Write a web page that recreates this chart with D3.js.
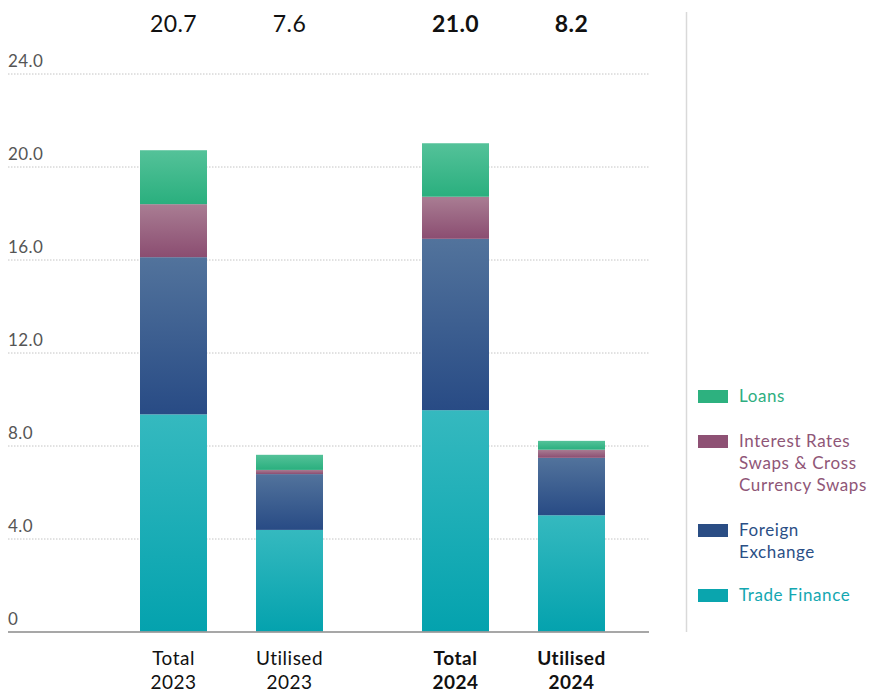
<!DOCTYPE html>
<html>
<head>
<meta charset="utf-8">
<script src="https://cdn.jsdelivr.net/npm/d3@7"></script>
<style>
  html, body { margin: 0; padding: 0; background: #fff; }
  svg { display: block; font-family: Lato, "Open Sans", sans-serif; }
</style>
</head>
<body>
<svg id="chart" width="871" height="692"></svg>
<script>
// Facility groups and their columns
const years = ["2023", "2024"];
const kinds = ["Total", "Utilised"];

// Stack order, bottom to top
const seriesNames = ["Trade Finance", "Foreign Exchange", "Interest Rates Swaps & Cross Currency Swaps", "Loans"];

// Values per column, order: Total 2023, Utilised 2023, Total 2024, Utilised 2024
const tradeFinance    = [9.34, 4.37, 9.52, 5.00];
const foreignExchange = [6.76, 2.40, 7.37, 2.47];
const interestSwaps   = [2.28, 0.18, 1.81, 0.35];
const loans           = [2.32, 0.65, 2.30, 0.38];

// Y axis ticks
const yTicks = [0, 4, 8, 12, 16, 20, 24];
const yTickLabels = ["0", "4.0", "8.0", "12.0", "16.0", "20.0", "24.0"];

const colors = {
  "Trade Finance":    { top: "#35b9bf", bottom: "#04a2ae", text: "#13a7b1", swatch: "#0aa5ae" },
  "Foreign Exchange": { top: "#52739c", bottom: "#284b85", text: "#2b4f86", swatch: "#2a4d84" },
  "Interest Rates Swaps & Cross Currency Swaps":
                      { top: "#a97d93", bottom: "#8b4d71", text: "#8f5677", swatch: "#8e5174" },
  "Loans":            { top: "#54c299", bottom: "#2aaf7e", text: "#2eae80", swatch: "#2db17f" }
};

const columns = [];
years.forEach((yr, gi) => kinds.forEach((k, ki) => {
  const i = gi * kinds.length + ki;
  columns.push({
    year: yr, kind: k, bold: yr === "2024",
    "Trade Finance": tradeFinance[i],
    "Foreign Exchange": foreignExchange[i],
    "Interest Rates Swaps & Cross Currency Swaps": interestSwaps[i],
    "Loans": loans[i]
  });
}));
columns.forEach(c => c.total = d3.sum(seriesNames, s => c[s]));

const svg = d3.select("#chart");

const y = d3.scaleLinear().domain([0, 24]).range([631.5, 73.5]);
const xOuter = d3.scaleBand().domain(years).range([90, 654]);
const xInner = d3.scaleBand().domain(kinds).range([50, 233]).paddingInner(49 / 116);
const xPos = d => xOuter(d.year) + xInner(d.kind);
const bw = xInner.bandwidth();

// Gradients, light at top of each segment to deeper at bottom
const defs = svg.append("defs");
seriesNames.forEach((s, i) => {
  const g = defs.append("linearGradient").attr("id", "grad" + i)
    .attr("x1", 0).attr("y1", 0).attr("x2", 0).attr("y2", 1);
  g.append("stop").attr("offset", "0%").attr("stop-color", colors[s].top);
  g.append("stop").attr("offset", "100%").attr("stop-color", colors[s].bottom);
});

// Dotted gridlines
const yAxis = d3.axisLeft(y).tickValues(yTicks.slice(1)).tickSize(-641).tickFormat("");
svg.append("g").attr("transform", "translate(8,0)")
  .call(yAxis)
  .call(g => g.select(".domain").remove())
  .call(g => g.selectAll("line")
    .attr("stroke", "#c4c4c4").attr("stroke-width", 1).attr("stroke-dasharray", "1.5,1.5"));

// Tick labels above the gridlines
svg.append("g").selectAll("text").data(yTicks).join("text")
  .attr("x", 8).attr("y", d => y(d) - 7)
  .attr("font-size", 17).attr("fill", "#555").attr("letter-spacing", 0.4)
  .text((d, i) => yTickLabels[i]);

// Stacked bars
const stack = d3.stack().keys(seriesNames);
const stacked = stack(columns);
svg.append("g").selectAll("g").data(stacked).join("g")
  .attr("fill", (d, i) => `url(#grad${i})`)
  .selectAll("rect").data(d => d).join("rect")
  .attr("x", d => xPos(d.data))
  .attr("width", bw)
  .attr("y", d => y(d[1]))
  .attr("height", d => y(d[0]) - y(d[1]));

// Baseline
svg.append("line").attr("x1", 8).attr("x2", 649)
  .attr("y1", y(0) + 0.5).attr("y2", y(0) + 0.5)
  .attr("stroke", "#8a8a8a").attr("stroke-width", 1.5);

// Totals above the plot
svg.append("g").selectAll("text").data(columns).join("text")
  .attr("x", d => xPos(d) + bw / 2).attr("y", 32)
  .attr("text-anchor", "middle").attr("font-size", 23).attr("letter-spacing", 0.4)
  .attr("font-weight", d => d.bold ? 700 : 400).attr("fill", "#111")
  .text(d => d3.format(".1f")(d.total));

// Column labels
const lab = svg.append("g").selectAll("text").data(columns).join("text")
  .attr("x", d => xPos(d) + bw / 2).attr("y", 665)
  .attr("text-anchor", "middle").attr("font-size", 19).attr("letter-spacing", 0.5)
  .attr("font-weight", d => d.bold ? 700 : 400).attr("fill", "#111");
lab.append("tspan").attr("x", d => xPos(d) + bw / 2).text(d => d.kind);
lab.append("tspan").attr("x", d => xPos(d) + bw / 2).attr("dy", 24).text(d => d.year);

// Separator
svg.append("line").attr("x1", 686.5).attr("x2", 686.5).attr("y1", 12).attr("y2", 632)
  .attr("stroke", "#d9d9d9").attr("stroke-width", 1.5);

// Legend, top to bottom in reverse stack order
const legendItems = [
  { name: "Loans", lines: ["Loans"], y: 390 },
  { name: "Interest Rates Swaps & Cross Currency Swaps", lines: ["Interest Rates", "Swaps & Cross", "Currency Swaps"], y: 435 },
  { name: "Foreign Exchange", lines: ["Foreign", "Exchange"], y: 524 },
  { name: "Trade Finance", lines: ["Trade Finance"], y: 589 }
];
const lg = svg.append("g").selectAll("g").data(legendItems).join("g")
  .attr("transform", d => `translate(698,${d.y})`);
lg.append("rect").attr("width", 30).attr("height", 13)
  .attr("fill", d => colors[d.name].swatch);
lg.append("text").attr("font-size", 17).attr("letter-spacing", 0.6)
  .attr("fill", d => colors[d.name].text)
  .selectAll("tspan").data(d => d.lines).join("tspan")
  .attr("x", 41).attr("y", (d, i) => 12 + i * 22).text(d => d);
</script>
</body>
</html>
